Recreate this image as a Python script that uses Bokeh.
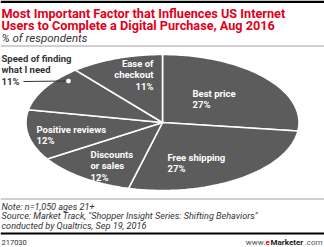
import math
from bokeh.plotting import figure
from bokeh.models import Range1d
from bokeh.core.properties import value
from bokeh.embed import file_html
from bokeh.resources import INLINE

title_lines = ["Most Important Factor that Influences US Internet",
               "Users to Complete a Digital Purchase, Aug 2016"]
subtitle = "% of respondents"
categories = ["Best price", "Free shipping", "Discounts or sales",
              "Positive reviews", "Speed of finding what I need", "Ease of checkout"]
label_lines = [["Best price"], ["Free shipping"], ["Discounts", "or sales"],
               ["Positive reviews"], ["Speed of finding", "what I need"], ["Ease of", "checkout"]]
values = [27, 27, 12, 12, 11, 11]
notes = ["Note: n=1,050 ages 21+",
         "Source: Market Track, \"Shopper Insight Series: Shifting Behaviors\"",
         "conducted by Qualtrics, Sep 19, 2016"]
chart_id = "217030"

W, H = 324, 247
p = figure(width=W, height=H, x_range=Range1d(0, W), y_range=Range1d(H, 0),
           output_backend="svg", toolbar_location=None, min_border=0)
p.axis.visible = False
p.grid.visible = False
p.outline_line_color = None
p.background_fill_color = "white"

FONT = value("Roboto")
RED = "#e2001a"

# header rules
p.quad(left=0, right=W, top=0, bottom=2.5, fill_color="black", line_color=None)
p.segment(x0=0, x1=W, y0=45.5, y1=45.5, line_color="#a0a0a0", line_width=1)
p.segment(x0=0, x1=W, y0=198.5, y1=198.5, line_color="#a0a0a0", line_width=1)
p.quad(left=0, right=W, top=232, bottom=234, fill_color="black", line_color=None)

# titles
p.text(x=[1, 1], y=[12.5, 24.5], text=title_lines, text_font=FONT, text_font_style="bold",
       text_font_size="12.7px", text_color=RED, text_baseline="middle")
p.text(x=[1], y=[37], text=[subtitle], text_font=FONT, text_font_style="italic",
       text_font_size="11.5px", text_color="#333333", text_baseline="middle")

# pie (ellipse)
cx, cy, ax, by = 162, 122, 136.5, 68
total = sum(values)
xs, ys = [], []
acc = 0.0
for v in values:
    a0 = acc / total * 2 * math.pi
    acc += v
    a1 = acc / total * 2 * math.pi
    n = 60
    px, py = [cx], [cy]
    for i in range(n + 1):
        t = a0 + (a1 - a0) * i / n
        px.append(cx + ax * math.sin(t))
        py.append(cy - by * math.cos(t))
    xs.append(px)
    ys.append(py)
p.patches(xs=xs, ys=ys, fill_color="#5c5c5c", line_color="white", line_width=1.6)

# slice labels
block_pos = [(192, 93, "left"), (167, 157, "left"), (90, 154, "left"),
             (36, 129, "left"), (1, 58, "left"), (153, 63, "right")]
lx, ly, lt, la, lc = [], [], [], [], []
for lines, v, (x0, y0, al), cat in zip(label_lines, values, block_pos, categories):
    col = "#333333" if cat.startswith("Speed") else "white"
    for j, s in enumerate(lines + [f"{v}%"]):
        lx.append(x0); ly.append(y0 + 11.3 * j); lt.append(s); la.append(al); lc.append(col)
p.text(x=lx, y=ly, text=lt, text_align=la, text_color=lc, text_font=FONT,
       text_font_style="bold", text_font_size="9.5px", text_baseline="middle")

# leader line to speed slice
p.segment(x0=23, x1=66, y0=81, y1=80.5, line_color="#333333", line_width=1)
p.scatter(x=[68], y=[80.5], size=6, fill_color="white", line_color="#444444", line_width=1)

# notes
p.text(x=[1, 1, 1], y=[206, 215.5, 225], text=notes, text_font=FONT, text_font_style="italic",
       text_font_size="9.1px", text_color="#333333", text_baseline="middle")

# footer
p.text(x=[1], y=[241.5], text=[chart_id], text_font=FONT, text_font_size="7.5px",
       text_color="#333333", text_baseline="middle")
p.text(x=[265], y=[241.5], text=["www."], text_align="right", text_font=FONT,
       text_font_size="8px", text_color="#555555", text_baseline="middle")
p.text(x=[265], y=[241.5], text=["e"], text_font=FONT, text_font_style="bold",
       text_font_size="8px", text_color=RED, text_baseline="middle")
p.text(x=[270], y=[241.5], text=["Marketer"], text_font=FONT, text_font_style="bold",
       text_font_size="8px", text_color="#222222", text_baseline="middle")
p.text(x=[322], y=[241.5], text=[".com"], text_align="right", text_font=FONT,
       text_font_size="8px", text_color="#555555", text_baseline="middle")

open("out.html", "w").write(file_html(p, INLINE))
